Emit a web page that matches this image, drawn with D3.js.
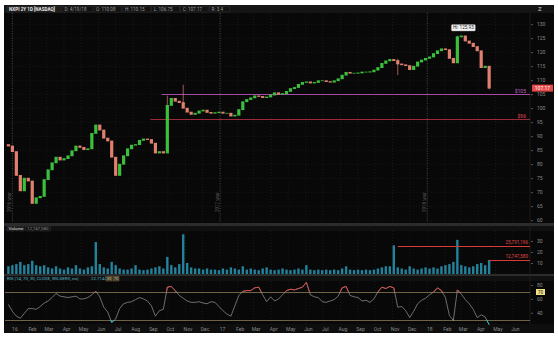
<!doctype html>
<html>
<head>
<meta charset="utf-8">
<title>NXPI 2Y 1D</title>
<script src="https://d3js.org/d3.v7.min.js"></script>
<style>
  body { margin: 0; background: #fff; }
  svg { display: block; font-family: Roboto, "Open Sans", sans-serif; }
</style>
</head>
<body>
<div id="chart"></div>
<script>
// weekly sampling (Friday of each week), Dec 2015 .. Apr 2018
const weeks = d3.timeFriday.range(new Date(2015, 11, 25), new Date(2018, 3, 21));

const firstOpen = 87;
const closes = [
  86.5, 84.5, 76, 70.5, 75, 74, 66, 68, 68.5, 74.5,
  78, 80.5, 82.5, 81.5, 82, 83, 84.8, 86.5, 86, 85.2,
  85.5, 91, 94, 92.2, 89.3, 88.3, 82.5, 76, 80, 83,
  85.5, 86.8, 87, 88.5, 89, 88.8, 87.5, 84, 84.5, 84,
  101, 103.5, 102.5, 102, 100, 98.6, 97.8, 98.2, 99, 99.3,
  98.5, 98.2, 98.4, 98.6, 98.2, 98.2, 97.2, 97.5, 99.5, 102.3,
  103.1, 103.7, 104.4, 104.2, 103.8, 104, 104.7, 105.5, 105, 105.2,
  106, 107, 107.4, 108.5, 109.2, 109.4, 109, 109.2, 109.8, 109.8,
  109.5, 109.3, 109.8, 110.5, 111.8, 112.8, 112.5, 112.5, 112.6, 112.9,
  112.9, 113, 113.6, 114.5, 116, 116.9, 117.4, 117, 115.8, 115.5,
  115.2, 113.8, 115, 116.5, 117.2, 117.8, 118.3, 119.5, 120.5, 121.2,
  120.9, 117.8, 116.2, 125.5, 125.8, 124, 123.2, 122, 120.5, 114.5,
  115, 107.17
];

// volume, millions
const volumes = [
  7, 8, 9, 11, 8, 9, 12, 8, 7, 8,
  6, 5, 7, 5, 4, 6, 5, 8, 5, 4,
  6, 7, 29, 9, 6, 5, 11, 8, 5, 4,
  4, 5, 8, 4, 3.5, 4, 5, 6, 7, 5,
  15.5, 8, 6, 9, 36, 10, 6, 5, 5, 4,
  5, 4, 4, 3.5, 5, 4, 6, 5, 4, 7,
  4, 5, 4, 3.5, 5, 6, 4, 3.5, 4, 5,
  4, 3.5, 4, 5, 4, 8, 4, 3.5, 4, 3.5,
  4, 3.5, 4, 3.5, 5, 7, 4, 3.5, 4, 3.5,
  4, 3.5, 4, 5, 6, 7, 7, 26, 6, 5,
  4, 7, 5, 4, 5, 6, 5, 6, 5, 7,
  8, 9, 11, 31, 8, 7, 6, 7, 9, 10,
  8, 12.75
];

const rsi = [
  52, 42, 35, 32, 39, 46, 46, 45, 49, 54,
  57, 62, 68, 64, 63, 62, 63, 64, 60, 60,
  62, 66, 71, 63, 48, 41, 26, 31, 46, 53,
  55, 56, 59, 62, 60, 57, 50, 35, 43, 45,
  77, 78, 72, 65, 61, 57, 55, 55, 56, 54,
  53, 56, 55, 49, 43, 38, 35, 50, 65, 71,
  72, 72, 76, 77, 66, 56, 63, 57, 60, 66,
  72, 74, 73, 75, 77, 84, 66, 63, 62, 56,
  55, 57, 59, 64, 76, 78, 65, 63, 62, 57,
  58, 55, 60, 70, 77, 75, 78, 76, 48, 49,
  43, 33, 42, 53, 58, 61, 66, 70, 76, 72,
  62, 36, 29, 73, 67, 59, 53, 45, 33, 37,
  34, 22.7142
];

// notable wicks: [date, high, low]
const wicks = [
  ["2016-09-30", 104.5, 84],
  ["2016-10-28", 108.4, 100.5],
  ["2017-11-10", 117.6, 111.8],
  ["2018-02-23", 125.93, 116.5],
  ["2018-04-20", 110.15, 106.75]
];

const priceTicks = d3.range(60, 131, 5);
const volTicks = [10, 20, 30];
const rsiTicks = [40, 60, 80];

const priceLevels = [
  { price: 105, from: "2016-09-20", label: "$105", color: "#a64aa6", text: "#c565c5" },
  { price: 96, from: "2016-08-31", label: "$96", color: "#9c2a3a", text: "#e0485a" }
];
const volLevels = [
  { value: 25.791196, from: "2017-11-10", label: "25,791,196" },
  { value: 12.74758, from: "2018-04-20", label: "12,747,580" }
];

const header = ["NXPI 2Y 1D [NASDAQ]", "D: 4/19/18", "O: 110.08", "H: 110.15", "L: 106.75", "C: 107.17", "R: 3.4"];

const W = 558, H = 338;
const left = 5, right = 530;
const main = { top: 13, bottom: 223 };
const vol = { top: 231, bottom: 274 };
const osc = { top: 281, bottom: 324 };

const parse = d3.timeParse("%Y-%m-%d");
const crisp = v => Math.round(v) + 0.5;

const x = d3.scaleTime()
  .domain([new Date(2015, 11, 19), new Date(2018, 6, 1)])
  .range([left, right]);
const y = d3.scaleLinear().domain([59, 134]).range([main.bottom, main.top]);
const yv = d3.scaleLinear().domain([0, 39]).range([vol.bottom, vol.top]);
const yr = d3.scaleLinear().domain([23, 85.9]).range([osc.bottom + 0.5, osc.top]);

const svg = d3.select("#chart").append("svg")
  .attr("width", W).attr("height", H);

svg.append("rect").attr("width", W).attr("height", H).attr("fill", "#fff");
svg.append("rect").attr("x", 4).attr("y", 5).attr("width", 550).attr("height", 328).attr("fill", "#080808");

// header bars / separators
svg.append("rect").attr("x", 4).attr("y", 5).attr("width", 550).attr("height", 8).attr("fill", "#141414");
svg.append("rect").attr("x", 4).attr("y", 223).attr("width", 550).attr("height", 3).attr("fill", "#2c2c2c");
svg.append("rect").attr("x", 4).attr("y", 226).attr("width", 550).attr("height", 5).attr("fill", "#101010");
svg.append("rect").attr("x", 4).attr("y", 274).attr("width", 550).attr("height", 2).attr("fill", "#2c2c2c");
svg.append("rect").attr("x", 4).attr("y", 276).attr("width", 550).attr("height", 5).attr("fill", "#101010");
svg.append("rect").attr("x", 4).attr("y", 324).attr("width", 550).attr("height", 9).attr("fill", "#0e0e0e");
svg.append("line").attr("x1", right).attr("x2", right).attr("y1", 13).attr("y2", 324)
  .attr("stroke", "#2a2a2a").attr("stroke-width", 0.6);

const months = d3.timeMonth.range(new Date(2016, 0, 1), new Date(2018, 6, 1));

// vertical month grid in each panel
[main, vol, osc].forEach(p => {
  svg.append("g").selectAll("line").data(months).enter().append("line")
    .attr("x1", d => x(d)).attr("x2", d => x(d))
    .attr("y1", p.top).attr("y2", p.bottom)
    .attr("stroke", "#2a2a2a").attr("stroke-width", 0.5)
    .attr("stroke-dasharray", "1,2");
});

// horizontal price grid
svg.append("g").selectAll("line").data(priceTicks).enter().append("line")
  .attr("x1", left).attr("x2", right)
  .attr("y1", d => y(d)).attr("y2", d => y(d))
  .attr("stroke", "#262626").attr("stroke-width", 0.5).attr("stroke-dasharray", "1,2");

// year separators
const years = [new Date(2016, 0, 1), new Date(2017, 0, 1), new Date(2018, 0, 1)];
svg.append("g").selectAll("line").data(years).enter().append("line")
  .attr("x1", d => x(d)).attr("x2", d => x(d))
  .attr("y1", main.top).attr("y2", main.bottom)
  .attr("stroke", "#666").attr("stroke-width", 0.6).attr("stroke-dasharray", "1,1.5");
svg.append("g").selectAll("text").data(years).enter().append("text")
  .attr("transform", d => `translate(${x(d) - 1.5},212) rotate(-90)`)
  .attr("font-size", 4.5).attr("fill", "#5a5a5a")
  .text(d => d.getFullYear() + " year");

// price level lines
priceLevels.forEach(l => {
  svg.append("line")
    .attr("x1", x(parse(l.from))).attr("x2", right)
    .attr("y1", crisp(y(l.price))).attr("y2", crisp(y(l.price)))
    .attr("stroke", l.color).attr("stroke-width", 1);
  svg.append("text").attr("x", 526).attr("y", y(l.price) - 1.5)
    .attr("text-anchor", "end").attr("font-size", 5).attr("fill", l.text)
    .text(l.label);
});

// candles (weekly bodies, drawn as a thin ragged band)
const candles = weeks.map((d, i) => ({
  date: d,
  open: i === 0 ? firstOpen : closes[i - 1],
  close: closes[i]
}));
const up = "#3cbf3c", down = "#e0806e";

svg.append("g").selectAll("line").data(wicks).enter().append("line")
  .attr("x1", d => x(parse(d[0]))).attr("x2", d => x(parse(d[0])))
  .attr("y1", d => y(d[1])).attr("y2", d => y(d[2]))
  .attr("stroke", (d, i) => i === 3 ? up : down).attr("stroke-width", 0.7);

svg.append("g").selectAll("rect").data(candles).enter().append("rect")
  .attr("x", d => x(d.date) - 1.6)
  .attr("width", 3.2)
  .attr("y", d => y(Math.max(d.open, d.close)) - 0.4)
  .attr("height", d => Math.abs(y(d.open) - y(d.close)) + 0.8)
  .attr("fill", d => d.close >= d.open ? up : down);

// high bubble
const hiDate = parse("2018-02-23");
svg.append("rect").attr("x", x(hiDate) - 6).attr("y", y(125.93) - 11)
  .attr("width", 24).attr("height", 6.5).attr("rx", 1)
  .attr("fill", "#f2f2f2").attr("stroke", "#888").attr("stroke-width", 0.4);
svg.append("text").attr("x", x(hiDate) + 6).attr("y", y(125.93) - 6.3)
  .attr("text-anchor", "middle").attr("font-size", 4.6).attr("fill", "#222")
  .text("Hi: 125.93");

// price axis
const yAxis = d3.axisRight(y).tickValues(priceTicks).tickSize(2).tickPadding(4);
svg.append("g").attr("transform", `translate(${right + 1},0)`).call(yAxis)
  .call(g => g.select(".domain").remove())
  .call(g => g.selectAll("line").attr("stroke", "#555"))
  .call(g => g.selectAll("text").attr("fill", "#8a8a8a").attr("font-size", 5).attr("font-family", "Roboto"));

const last = closes[closes.length - 1];
svg.append("rect").attr("x", 532).attr("y", y(last) - 3.5).attr("width", 21).attr("height", 7)
  .attr("fill", "#e44848");
svg.append("text").attr("x", 542.5).attr("y", y(last) + 1.8).attr("text-anchor", "middle")
  .attr("font-size", 5).attr("fill", "#fff").text(last.toFixed(2));
svg.append("text").attr("x", 538).attr("y", 11).attr("font-size", 6).attr("font-weight", "bold")
  .attr("fill", "#9a9a9a").text("Z");

// header boxes
let hx = 7;
header.forEach((t, i) => {
  const w = i === 0 ? 54 : (t.length * 2.6 + 4);
  svg.append("rect").attr("x", hx).attr("y", 6.5).attr("width", w).attr("height", 5.5)
    .attr("fill", i === 0 ? "#1c1c1c" : "#121212").attr("stroke", "#3a3a3a").attr("stroke-width", 0.4);
  svg.append("text").attr("x", hx + 2).attr("y", 10.8)
    .attr("font-size", 4.6).attr("font-weight", i === 0 ? "bold" : "normal")
    .attr("fill", i === 0 ? "#e8e8e8" : "#9a9a9a").text(t);
  hx += w + 1.5;
});

// volume
svg.append("g").selectAll("rect").data(weeks).enter().append("rect")
  .attr("x", d => x(d) - 1.2)
  .attr("width", 2.4)
  .attr("y", (d, i) => yv(volumes[i]))
  .attr("height", (d, i) => vol.bottom - yv(volumes[i]))
  .attr("fill", "#23829c");

volLevels.forEach(l => {
  svg.append("line")
    .attr("x1", x(parse(l.from))).attr("x2", right)
    .attr("y1", crisp(yv(l.value))).attr("y2", crisp(yv(l.value)))
    .attr("stroke", "#d83a3a").attr("stroke-width", 1);
  svg.append("text").attr("x", 528).attr("y", yv(l.value) - 1.5)
    .attr("text-anchor", "end").attr("font-size", 4.6).attr("fill", "#e04848")
    .text(l.label);
});

const vAxis = d3.axisRight(yv).tickValues(volTicks).tickSize(2).tickPadding(4);
svg.append("g").attr("transform", `translate(${right + 1},0)`).call(vAxis)
  .call(g => g.select(".domain").remove())
  .call(g => g.selectAll("line").attr("stroke", "#555"))
  .call(g => g.selectAll("text").attr("fill", "#8a8a8a").attr("font-size", 5).attr("font-family", "Roboto"));

svg.append("rect").attr("x", 7).attr("y", 226.5).attr("width", 17).attr("height", 4.5)
  .attr("fill", "#1c1c1c").attr("stroke", "#3a3a3a").attr("stroke-width", 0.4);
svg.append("text").attr("x", 8.5).attr("y", 230.2).attr("font-size", 4.4).attr("fill", "#ddd").text("Volume");
svg.append("rect").attr("x", 25.5).attr("y", 226.5).attr("width", 25).attr("height", 4.5)
  .attr("fill", "#121212").attr("stroke", "#3a3a3a").attr("stroke-width", 0.4);
svg.append("text").attr("x", 27).attr("y", 230.2).attr("font-size", 4.4).attr("fill", "#8a8a8a").text("12,747,580");

// RSI
[70, 30].forEach(v => {
  svg.append("line").attr("x1", left).attr("x2", right)
    .attr("y1", crisp(yr(v))).attr("y2", crisp(yr(v)))
    .attr("stroke", "#8c7b55").attr("stroke-width", 0.8);
});

const defs = svg.append("defs");
defs.append("clipPath").attr("id", "over").append("rect")
  .attr("x", left).attr("y", osc.top - 3).attr("width", right - left).attr("height", yr(70) - osc.top + 3);
defs.append("clipPath").attr("id", "under").append("rect")
  .attr("x", left).attr("y", yr(30)).attr("width", right - left).attr("height", osc.bottom + 3 - yr(30));

const rsiLine = d3.line().x((d, i) => x(weeks[i])).y(d => yr(d));
svg.append("path").datum(rsi).attr("d", rsiLine)
  .attr("fill", "none").attr("stroke", "#9a9a9a").attr("stroke-width", 0.7);
svg.append("path").datum(rsi).attr("d", rsiLine).attr("clip-path", "url(#over)")
  .attr("fill", "none").attr("stroke", "#e04a4a").attr("stroke-width", 0.9);
svg.append("path").datum(rsi).attr("d", rsiLine).attr("clip-path", "url(#under)")
  .attr("fill", "none").attr("stroke", "#22c4d4").attr("stroke-width", 0.9);

const rAxis = d3.axisRight(yr).tickValues(rsiTicks).tickSize(2).tickPadding(4);
svg.append("g").attr("transform", `translate(${right + 1},0)`).call(rAxis)
  .call(g => g.select(".domain").remove())
  .call(g => g.selectAll("line").attr("stroke", "#555"))
  .call(g => g.selectAll("text").attr("fill", "#8a8a8a").attr("font-size", 5).attr("font-family", "Roboto"));
svg.append("rect").attr("x", 536).attr("y", yr(70) - 3).attr("width", 9).attr("height", 6)
  .attr("fill", "#f0df86");
svg.append("text").attr("x", 540.5).attr("y", yr(70) + 1.8).attr("text-anchor", "middle")
  .attr("font-size", 4.6).attr("fill", "#222").text("70");

svg.append("text").attr("x", 7).attr("y", 280.2).attr("font-size", 4.4).attr("fill", "#4fb8c4")
  .text("RSI (14, 70, 30, CLOSE, WILDERS, no)");
svg.append("text").attr("x", 91).attr("y", 280.2).attr("font-size", 4.4).attr("fill", "#4fb8c4")
  .text(rsi[rsi.length - 1].toFixed(4));
[["30", 106], ["70", 113]].forEach(b => {
  svg.append("rect").attr("x", b[1]).attr("y", 276.5).attr("width", 6).attr("height", 4.5).attr("fill", "#3a3224")
    .attr("stroke", "#8c7b55").attr("stroke-width", 0.4);
  svg.append("text").attr("x", b[1] + 3).attr("y", 280.2).attr("text-anchor", "middle")
    .attr("font-size", 4.2).attr("fill", "#d8c89a").text(b[0]);
});

// x axis
const xAxis = d3.axisBottom(x).tickValues(months).tickSize(0).tickPadding(3)
  .tickFormat(d => d.getMonth() === 0 ? d3.timeFormat("%y")(d) : d3.timeFormat("%b")(d));
svg.append("g").attr("transform", `translate(2,${osc.bottom})`).call(xAxis)
  .call(g => g.select(".domain").remove())
  .call(g => g.selectAll("text").attr("fill", "#8a8a8a").attr("font-size", 5).attr("font-family", "Roboto"));
</script>
</body>
</html>
